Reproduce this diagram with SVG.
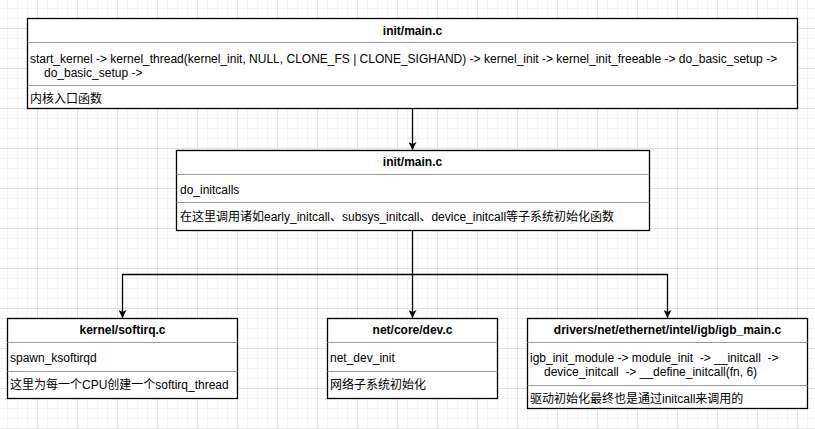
<svg xmlns="http://www.w3.org/2000/svg" width="815" height="429" viewBox="0 0 815 429">
  <defs>
    <pattern id="minor" width="10" height="10" patternUnits="userSpaceOnUse" x="7" y="8">
      <path d="M 0 0.5 H 10 M 0.5 0 V 10" fill="none" stroke="#f4f4f4" stroke-width="1"/>
    </pattern>
    <pattern id="major" width="40" height="40" patternUnits="userSpaceOnUse" x="37" y="28">
      <path d="M 0 0.5 H 40 M 0.5 0 V 40" fill="none" stroke="#e2e2e2" stroke-width="1"/>
    </pattern>
    <marker id="arrow" viewBox="0 0 10 10" refX="10" refY="5" markerWidth="8" markerHeight="8" markerUnits="userSpaceOnUse" orient="auto">
      <path d="M 0 0 L 10 5 L 0 10 L 2.5 5 Z" fill="#000"/>
    </marker>
  </defs>
  <style>
    .box { fill: #fff; stroke: #000; stroke-width: 1.3; }
    .sep { stroke: #999; stroke-width: 1; }
    text { font-family: "Liberation Sans", Arial, "Noto Sans CJK SC", sans-serif; font-size: 12px; fill: #000; white-space: pre; }
    .title { font-weight: bold; text-anchor: middle; }
    .edge { fill: none; stroke: #000; stroke-width: 1.3; marker-end: url(#arrow); }
  </style>

  <!-- background grid -->
  <rect width="815" height="429" fill="#fff"/>
  <rect width="815" height="429" fill="url(#minor)"/>
  <rect width="815" height="429" fill="url(#major)"/>

  <!-- connectors -->
  <g id="edges">
    <path class="edge" d="M 412.5 108 V 150"/>
    <path class="edge" d="M 412.5 230 V 318"/>
    <path class="edge" d="M 412.5 274.5 H 122.5 V 318"/>
    <path class="edge" d="M 412.5 274.5 H 667.5 V 318"/>
  </g>

  <!-- top: init/main.c -->
  <g id="node-main-start">
    <rect class="box" x="27.5" y="18.5" width="770" height="90"/>
    <line class="sep" x1="27.5" y1="42.5" x2="797.5" y2="42.5"/>
    <line class="sep" x1="27.5" y1="85.5" x2="797.5" y2="85.5"/>
    <text class="title" x="412.5" y="34.5">init/main.c</text>
    <text x="30" y="62.5">start_kernel -&gt; kernel_thread(kernel_init, NULL, CLONE_FS | CLONE_SIGHAND) -&gt; kernel_init -&gt; kernel_init_freeable -&gt; do_basic_setup -&gt;</text>
    <text x="44" y="76.5">do_basic_setup -&gt;</text>
    <text x="30" y="103">内核入口函数</text>
  </g>

  <!-- middle: init/main.c do_initcalls -->
  <g id="node-main-initcalls">
    <rect class="box" x="176.5" y="150.5" width="473" height="80"/>
    <line class="sep" x1="176.5" y1="174.5" x2="649.5" y2="174.5"/>
    <line class="sep" x1="176.5" y1="202.5" x2="649.5" y2="202.5"/>
    <text class="title" x="412.5" y="166">init/main.c</text>
    <text x="180" y="194">do_initcalls</text>
    <text x="180" y="221">在这里调用诸如early_initcall、subsys_initcall、device_initcall等子系统初始化函数</text>
  </g>

  <!-- bottom left: kernel/softirq.c -->
  <g id="node-softirq">
    <rect class="box" x="7.5" y="318.5" width="230" height="80"/>
    <line class="sep" x1="7.5" y1="342.5" x2="237.5" y2="342.5"/>
    <line class="sep" x1="7.5" y1="371.5" x2="237.5" y2="371.5"/>
    <text class="title" x="122.5" y="334">kernel/softirq.c</text>
    <text x="10" y="362">spawn_ksoftirqd</text>
    <text x="10" y="389">这里为每一个CPU创建一个softirq_thread</text>
  </g>

  <!-- bottom middle: net/core/dev.c -->
  <g id="node-dev">
    <rect class="box" x="327.5" y="318.5" width="170" height="80"/>
    <line class="sep" x1="327.5" y1="342.5" x2="497.5" y2="342.5"/>
    <line class="sep" x1="327.5" y1="371.5" x2="497.5" y2="371.5"/>
    <text class="title" x="412.5" y="334">net/core/dev.c</text>
    <text x="330" y="362">net_dev_init</text>
    <text x="330" y="389">网络子系统初始化</text>
  </g>

  <!-- bottom right: igb_main.c -->
  <g id="node-igb">
    <rect class="box" x="527.5" y="318.5" width="280" height="90"/>
    <line class="sep" x1="527.5" y1="342.5" x2="807.5" y2="342.5"/>
    <line class="sep" x1="527.5" y1="385.5" x2="807.5" y2="385.5"/>
    <text class="title" x="667.5" y="334">drivers/net/ethernet/intel/igb/igb_main.c</text>
    <text x="530" y="362" xml:space="preserve">igb_init_module -&gt; module_init  -&gt; __initcall  -&gt;</text>
    <text x="544" y="376" xml:space="preserve">device_initcall  -&gt; __define_initcall(fn, 6)</text>
    <text x="530" y="403">驱动初始化最终也是通过initcall来调用的</text>
  </g>
</svg>
